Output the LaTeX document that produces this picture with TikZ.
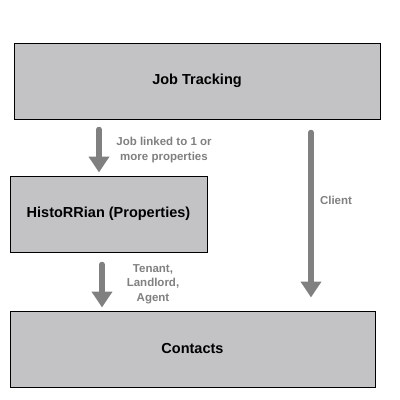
\documentclass[tikz,border=0pt]{standalone}
\usepackage{fontspec}
\setmainfont{Liberation Sans}
\usetikzlibrary{arrows.meta}
\definecolor{boxgray}{HTML}{C3C2C5}
\definecolor{flowgray}{HTML}{808080}

\begin{document}
\begin{tikzpicture}[x=1pt,y=-1pt,
  module/.style={draw=black, line width=1pt, fill=boxgray, minimum height=76pt,
    font=\fontsize{14.5}{17}\selectfont\bfseries},
  flow/.style={draw=flowgray, line width=5.5pt, line cap=round,
    -{Triangle[width=20pt,length=16pt]}},
  flowlabel/.style={text=flowgray, align=center, inner sep=0pt,
    font=\fontsize{11.5}{14.5}\selectfont\bfseries}]
  \useasboundingbox (0,0) rectangle (400,400);

  % Boxes
  \node[module, minimum width=366pt] (job) at (197,81) {Job Tracking};
  \node[module, minimum width=197pt] (hist) at (108.5,214) {HistoRRian (Properties)};
  \node[module, minimum width=365pt] (cont) at (192.5,349) {Contacts};

  % Job -> properties
  \draw[flow, shorten <=10pt, shorten >=3pt] (job.south -| 99,0) -- (hist.north -| 99,0);
    \node[flowlabel] (joblink) at (164,150) {Job linked to 1 or\\more properties};

  % Job -> contacts
  \draw[flow, shorten <=13pt, shorten >=13pt] (job.south -| 311,0) -- (cont.north -| 311,0);
    \node[flowlabel] (client) at (336,200) {Client};

  % Properties -> contacts
  \draw[flow, shorten <=12pt, shorten >=3pt] (hist.south -| 102,0) -- (cont.north -| 102,0);
    \node[flowlabel] (roles) at (153,284) {Tenant,\\Landlord,\\Agent};

\end{tikzpicture}
\end{document}
